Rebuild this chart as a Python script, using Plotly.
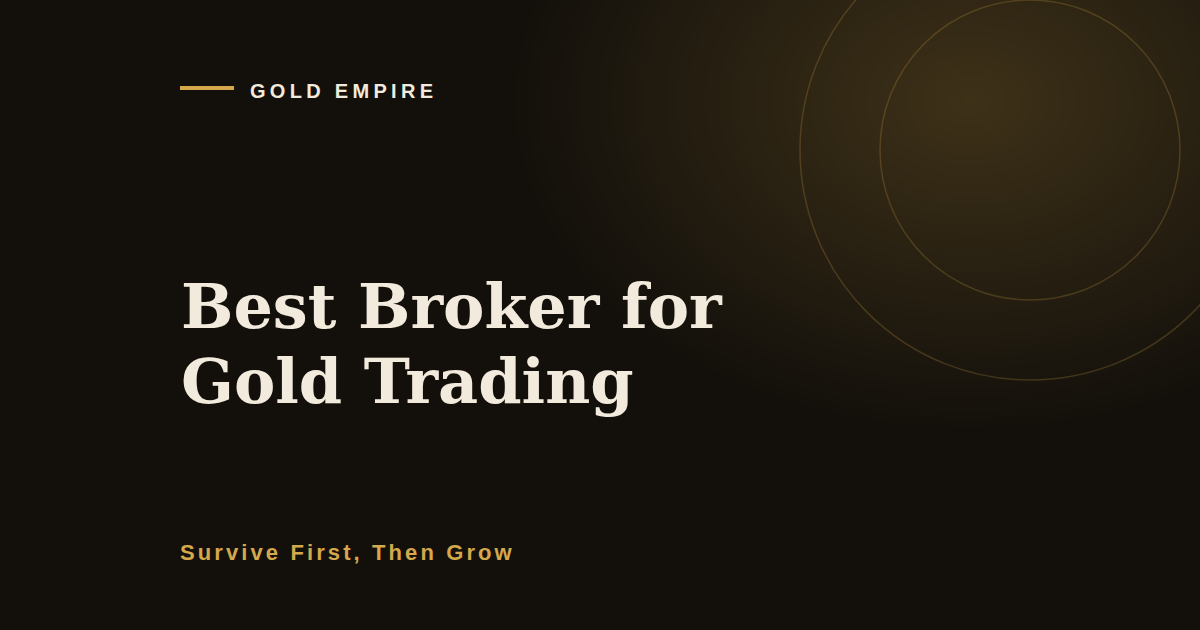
import base64
import struct
import zlib

import numpy as np
import plotly.graph_objects as go

# text content of the card
brand = "GOLD EMPIRE"
title_lines = ["Best Broker for", "Gold Trading"]
tagline = "Survive First, Then Grow"

# decorative rings (centre x, centre y, radius) in px
ring_cx, ring_cy = 1030, 150
ring_radii = [150, 230]

W, H = 1200, 630
BG = "#13100b"
GOLD = "#d4a84b"
CREAM = "#f2eadc"


def glow_png(w, h, cx, cy, rx, ry, base, glow):
    """Background picture: flat base colour with an elliptical glow, as a PNG data URI."""
    yy, xx = np.mgrid[0:h, 0:w].astype(float)
    d = np.sqrt(((xx - cx) / rx) ** 2 + ((yy - cy) / ry) ** 2)
    t = np.clip(1 - d, 0, 1)[..., None]
    img = np.array(base, float) + t * (np.array(glow, float) - np.array(base, float))
    img = np.round(img).astype(np.uint8)
    raw = b"".join(b"\x00" + img[r].tobytes() for r in range(h))

    def chunk(tag, data):
        c = tag + data
        return struct.pack(">I", len(data)) + c + struct.pack(">I", zlib.crc32(c) & 0xffffffff)

    png = (b"\x89PNG\r\n\x1a\n"
           + chunk(b"IHDR", struct.pack(">IIBBBBB", w, h, 8, 2, 0, 0, 0))
           + chunk(b"IDAT", zlib.compress(raw, 9))
           + chunk(b"IEND", b""))
    return "data:image/png;base64," + base64.b64encode(png).decode()


fig = go.Figure()

fig.add_layout_image(dict(source=glow_png(W, H, 970, 100, 460, 330, (19, 16, 11), (62, 49, 24)),
                          xref="paper", yref="paper", x=0, y=1, sizex=1, sizey=1,
                          xanchor="left", yanchor="top", sizing="stretch", layer="below"))

shapes = []
for r in ring_radii:
    shapes.append(dict(type="circle", xref="x", yref="y",
                       x0=ring_cx - r, x1=ring_cx + r, y0=ring_cy - r, y1=ring_cy + r,
                       line=dict(color="rgba(212,168,75,0.22)", width=1.5),
                       fillcolor="rgba(0,0,0,0)", layer="above"))

# small gold rule next to brand
shapes.append(dict(type="line", xref="x", yref="y", x0=180, x1=234, y0=88, y1=88,
                   line=dict(color=GOLD, width=4)))

fig.update_layout(shapes=shapes)

annotations = [
    dict(x=248, y=91, xref="x", yref="y", xanchor="left", yanchor="middle",
         text='<span style="letter-spacing:4.3px">%s</span>' % brand, showarrow=False,
         font=dict(family="Liberation Sans, Arial", size=20, color=CREAM, weight="bold")),
    dict(x=179, y=306, xref="x", yref="y", xanchor="left", yanchor="middle",
         text=title_lines[0], showarrow=False,
         font=dict(family="DejaVu Serif", size=62, color=CREAM, weight="bold")),
    dict(x=179, y=381, xref="x", yref="y", xanchor="left", yanchor="middle",
         text=title_lines[1], showarrow=False,
         font=dict(family="DejaVu Serif", size=62, color=CREAM, weight="bold")),
    dict(x=178, y=552, xref="x", yref="y", xanchor="left", yanchor="middle",
         text='<span style="letter-spacing:3.1px">%s</span>' % tagline, showarrow=False,
         font=dict(family="Liberation Sans, Arial", size=22, color=GOLD, weight="bold")),
]
fig.update_layout(annotations=annotations)

fig.update_xaxes(range=[0, W], visible=False, fixedrange=True)
fig.update_yaxes(range=[H, 0], visible=False, fixedrange=True)
fig.update_layout(width=W, height=H, margin=dict(l=0, r=0, t=0, b=0),
                  paper_bgcolor=BG, plot_bgcolor="rgba(0,0,0,0)", showlegend=False)

fig.write_html("out.html", config={"displayModeBar": False},
               post_script="document.body.style.margin='0';document.body.style.background='%s';" % BG)
